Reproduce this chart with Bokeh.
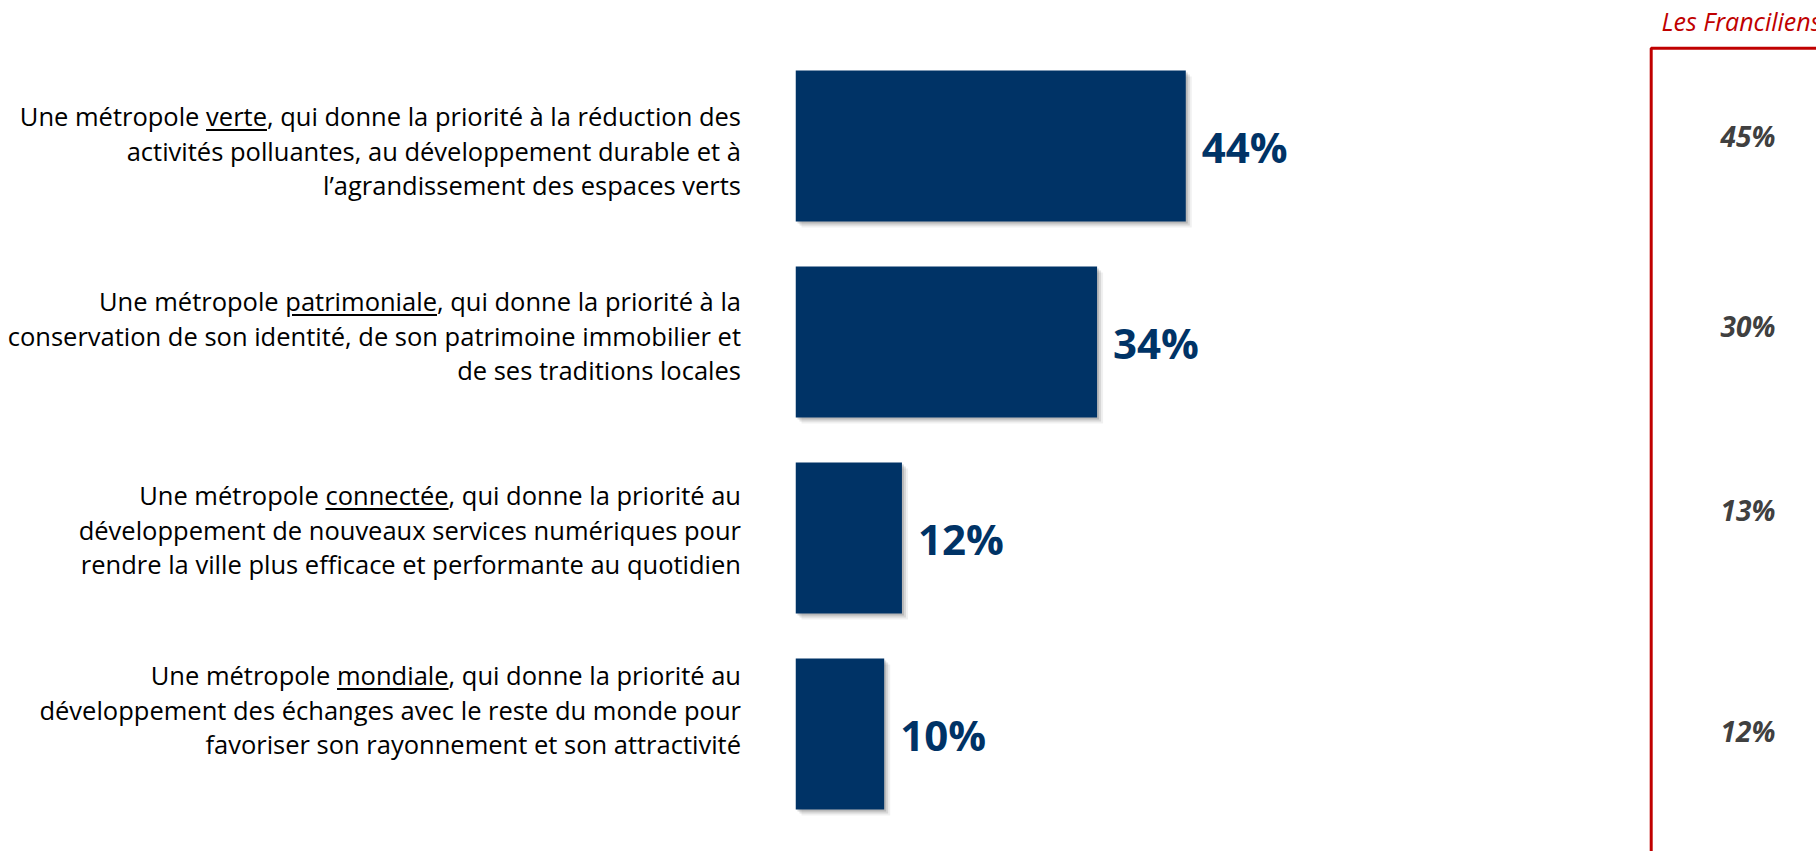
from bokeh.plotting import figure
from bokeh.models import ColumnDataSource, Range1d, Div
from bokeh.layouts import row
from bokeh.core.properties import value
from bokeh.embed import file_html
from bokeh.resources import INLINE

# ---------------- data ----------------
keywords = ["verte", "patrimoniale", "connectée", "mondiale"]
label_lines = [
    ["Une métropole verte, qui donne la priorité à la réduction des",
     "activités polluantes, au développement durable et à",
     "l’agrandissement des espaces verts"],
    ["Une métropole patrimoniale, qui donne la priorité à la",
     "conservation de son identité, de son patrimoine immobilier et",
     "de ses traditions locales"],
    ["Une métropole connectée, qui donne la priorité au",
     "développement de nouveaux services numériques pour",
     "rendre la ville plus efficace et performante au quotidien"],
    ["Une métropole mondiale, qui donne la priorité au",
     "développement des échanges avec le reste du monde pour",
     "favoriser son rayonnement et son attractivité"],
]
values = [44, 34, 12, 10]
franciliens = [45, 30, 13, 12]
franciliens_title = "Les Franciliens"

# ---------------- layout constants ----------------
BLUE = "#003366"
RED = "#C00000"
GREY = "#404040"
PX_PER_PCT = 8.87
DIV_W = 795
FIG_W = 1021
H = 851
ROW_PITCH = 196.0
FIRST_CENTER = 145.5  # px from top of figure
BAR_H_PX = 151.0

def row_of(px):
    return (px - FIRST_CENTER) / ROW_PITCH

def xdata(px):
    return px / PX_PER_PCT

p = figure(width=FIG_W, height=H, output_backend="svg", toolbar_location=None,
           x_range=Range1d(0, FIG_W / PX_PER_PCT),
           y_range=Range1d(row_of(H), row_of(0)),
           min_border=0, outline_line_color=None,
           x_axis_location=None, y_axis_location=None,
           background_fill_color="white", border_fill_color="white")
p.grid.visible = False

idx = list(range(len(values)))
bar_h = BAR_H_PX / ROW_PITCH

# soft shadow
for off, a in [(6, 0.06), (4, 0.10), (2, 0.14)]:
    sh = ColumnDataSource(dict(y=[i + off / ROW_PITCH for i in idx],
                               left=[xdata(off)] * len(values),
                               right=[v + xdata(off) for v in values]))
    p.hbar(y="y", left="left", right="right", height=bar_h, source=sh,
           fill_color="#000000", fill_alpha=a, line_color=None)

src = ColumnDataSource(dict(y=idx, v=values, lab=[f"{v}%" for v in values]))
p.hbar(y="y", left=0, right="v", height=bar_h, source=src,
       fill_color=BLUE, line_color=None)
p.text(x="v", y="y", text="lab", source=src, x_offset=16,
       text_font=value("Open Sans"), text_font_style="bold",
       text_font_size="42px", text_color=BLUE,
       text_align="left", text_baseline="middle")

# right panel: Les Franciliens
frame_x = xdata(1650.7 - DIV_W)
frame_top = row_of(47.7)
p.line(x=[frame_x, frame_x, xdata(FIG_W + 50)],
       y=[row_of(H + 50), frame_top, frame_top],
       line_color=RED, line_width=3)
p.text(x=[xdata(1661 - DIV_W)], y=[row_of(20)], text=[franciliens_title],
       text_font=value("Open Sans"), text_font_style="italic",
       text_font_size="25px", text_color=RED,
       text_align="left", text_baseline="middle")
fr_rows_px = [135, 325, 509, 730]
fsrc = ColumnDataSource(dict(x=[xdata(1747.5 - DIV_W)] * len(franciliens),
                             y=[row_of(py) for py in fr_rows_px],
                             lab=[f"{v}%" for v in franciliens]))
p.text(x="x", y="y", text="lab", source=fsrc,
       text_font=value("Open Sans"), text_font_style="bold italic",
       text_font_size="28px", text_color=GREY,
       text_align="center", text_baseline="middle")

# left labels (HTML, to allow underlined keywords)
LH = 34.5
label_centers = [151, 336, 530, 710]
blocks = []
for lines, kw, cy in zip(label_lines, keywords, label_centers):
    first = lines[0].replace(kw, f"<u style='text-underline-offset:3px;text-decoration-thickness:1.5px'>{kw}</u>", 1)
    html_lines = [first] + lines[1:]
    top = cy - 1.5 * LH
    blocks.append(
        f"<div style='position:absolute;right:{DIV_W - 741}px;top:{top}px;text-align:right;"
        f"white-space:nowrap;line-height:{LH}px'>" + "<br>".join(html_lines) + "</div>")
html = (f"<div style=\"position:relative;width:{DIV_W}px;height:{H}px;"
        f"font-family:'Open Sans';font-size:25.5px;color:#000000;\">" + "".join(blocks) + "</div>")
div = Div(text=html, width=DIV_W, height=H, margin=0)

layout = row(div, p, spacing=0)
with open("out.html", "w", encoding="utf-8") as f:
    f.write(file_html(layout, INLINE))
